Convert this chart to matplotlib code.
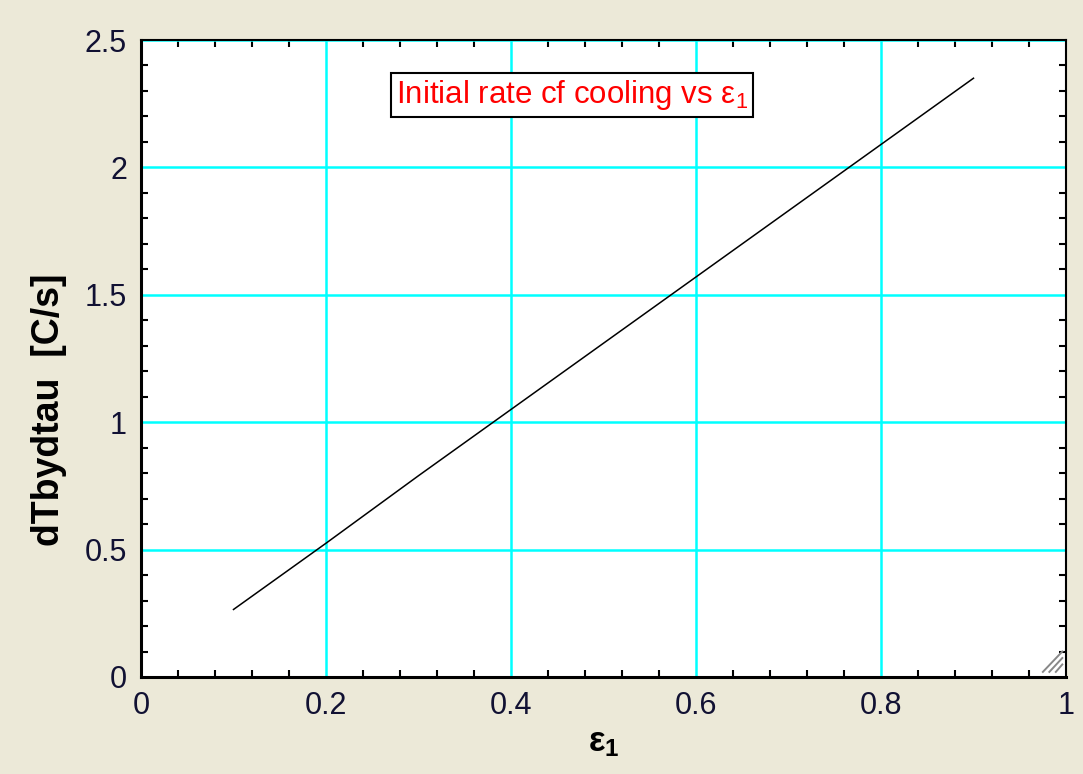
import numpy as np
import matplotlib
matplotlib.use('Agg')
import matplotlib.pyplot as plt
from matplotlib.ticker import MultipleLocator

plt.rcParams['font.family'] = ['Liberation Sans', 'DejaVu Sans']

# данные
eps1 = [0.1, 0.2, 0.3, 0.4, 0.5, 0.6, 0.7, 0.8, 0.9]
dTbydtau = [0.265, 0.525, 0.79, 1.05, 1.31, 1.57, 1.83, 2.09, 2.35]
x_ticks = [0, 0.2, 0.4, 0.6, 0.8, 1]
y_ticks = [0, 0.5, 1, 1.5, 2, 2.5]
x_labels = ['0', '0.2', '0.4', '0.6', '0.8', '1']
y_labels = ['0', '0.5', '1', '1.5', '2', '2.5']

bg = '#ECE9D8'
fig = plt.figure(figsize=(10.83, 7.74), dpi=100, facecolor=bg)
ax = fig.add_axes([141 / 1083, 97 / 774, 925 / 1083, 637 / 774])
ax.set_facecolor('white')

ax.plot(eps1, dTbydtau, color='black', lw=1.1, zorder=3)

ax.set_xlim(0, 1)
ax.set_ylim(0, 2.5)
ax.set_xticks(x_ticks, x_labels)
ax.set_yticks(y_ticks, y_labels)
ax.xaxis.set_minor_locator(MultipleLocator(0.04))
ax.yaxis.set_minor_locator(MultipleLocator(0.1))
ax.grid(True, which='major', color='#00FFFF', lw=1.8, zorder=0)
ax.set_axisbelow(True)

ax.tick_params(which='both', direction='in', top=True, right=True, color='black',
               labelsize=22, labelcolor='#111133', pad=10)
ax.tick_params(which='major', length=0)
ax.tick_params(which='minor', length=5, width=1.5)
for s in ax.spines.values():
    s.set_linewidth(1.5)
ax.spines['left'].set_linewidth(2.2)
ax.spines['bottom'].set_linewidth(2.2)

ax.set_xlabel(r'$\mathregular{ε_1}$', fontsize=25, fontweight='bold', labelpad=4)
ax.set_ylabel('dTbydtau  [C/s]', fontsize=27, fontweight='bold')
ax.yaxis.set_label_coords(-0.08, 0.42)

ax.text(0.466, 2.284, r'Initial rate cf cooling vs $\mathregular{ε_1}$', color='#FF0000',
        fontsize=22.5, ha='center', va='center', zorder=5,
        bbox=dict(boxstyle='square,pad=0.17', facecolor='white', edgecolor='black', lw=1.5))

# уголок для изменения размера окна
for d in [0.0, 0.007, 0.014]:
    ax.plot([0.975 + d, 0.996], [0.008, 0.040 - d * 925 / 637], transform=ax.transAxes,
            color='#888888', lw=1.4, zorder=4, clip_on=False)

fig.savefig('out.png', dpi=100, facecolor=bg)
